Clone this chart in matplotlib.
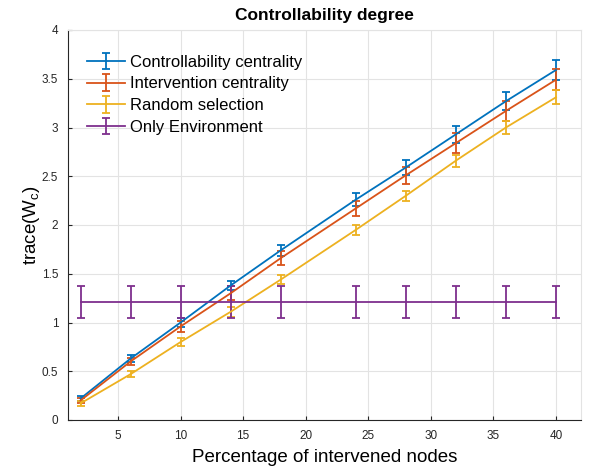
import matplotlib
matplotlib.use("Agg")
import matplotlib.pyplot as plt

x = [2, 6, 10, 14, 18, 24, 28, 32, 36, 40]

ctrl = [0.22, 0.63, 1.00, 1.38, 1.74, 2.26, 2.59, 2.93, 3.27, 3.59]
ctrl_err = [0.03, 0.04, 0.05, 0.05, 0.06, 0.07, 0.08, 0.09, 0.09, 0.1]
interv = [0.20, 0.60, 0.96, 1.30, 1.66, 2.17, 2.51, 2.84, 3.17, 3.49]
interv_err = [0.03, 0.04, 0.06, 0.07, 0.07, 0.08, 0.09, 0.1, 0.1, 0.11]
rand_sel = [0.17, 0.47, 0.80, 1.11, 1.44, 1.95, 2.30, 2.66, 3.00, 3.31]
rand_err = [0.03, 0.03, 0.04, 0.05, 0.05, 0.05, 0.05, 0.06, 0.065, 0.07]
env = [1.21] * 10
env_err = [0.165] * 10

labels = ["Controllability centrality", "Intervention centrality",
          "Random selection", "Only Environment"]
colors = ["#0072BD", "#D95319", "#EDB120", "#7E2F8E"]

plt.rcParams["font.family"] = ["Liberation Sans", "DejaVu Sans"]

fig = plt.figure(figsize=(5.89, 4.70), dpi=100)
ax = fig.add_axes([68 / 589, 1 - 420 / 470, 513 / 589, 390 / 470])

for ys, es, c, lab in zip([ctrl, interv, rand_sel, env],
                          [ctrl_err, interv_err, rand_err, env_err],
                          colors, labels):
    ax.errorbar(x, ys, yerr=es, color=c, lw=1.3, elinewidth=1.3,
                capsize=3, capthick=1.3, label=lab)

ax.set_xlim(1, 42)
ax.set_ylim(0, 4)
ax.set_xticks([5, 10, 15, 20, 25, 30, 35, 40])
ax.set_yticks([0, 0.5, 1, 1.5, 2, 2.5, 3, 3.5, 4])
ax.set_yticklabels(["0", "0.5", "1", "1.5", "2", "2.5", "3", "3.5", "4"])
ax.grid(True, color="#e3e3e3", lw=0.8)
ax.set_axisbelow(True)
ax.tick_params(direction="in", length=3, labelsize=8.5, colors="#262626",
               top=False, right=False, pad=7)
for s in ax.spines.values():
    s.set_color("#262626")
    s.set_linewidth(0.8)
ax.spines["top"].set_color("#e3e3e3")
ax.spines["right"].set_color("#e3e3e3")

ax.set_title("Controllability degree", fontsize=12.5, fontweight="bold", pad=7)
ax.set_xlabel("Percentage of intervened nodes", fontsize=13.5, labelpad=5)
ax.set_ylabel("trace(W$_\\mathregular{c}$)", fontsize=13.5, labelpad=0)

ax.legend(loc="upper left", frameon=False, fontsize=12, handlelength=2.3,
          handletextpad=0.3, labelspacing=0.4, bbox_to_anchor=(0.008, 0.975))

fig.savefig("out.png", dpi=100)
